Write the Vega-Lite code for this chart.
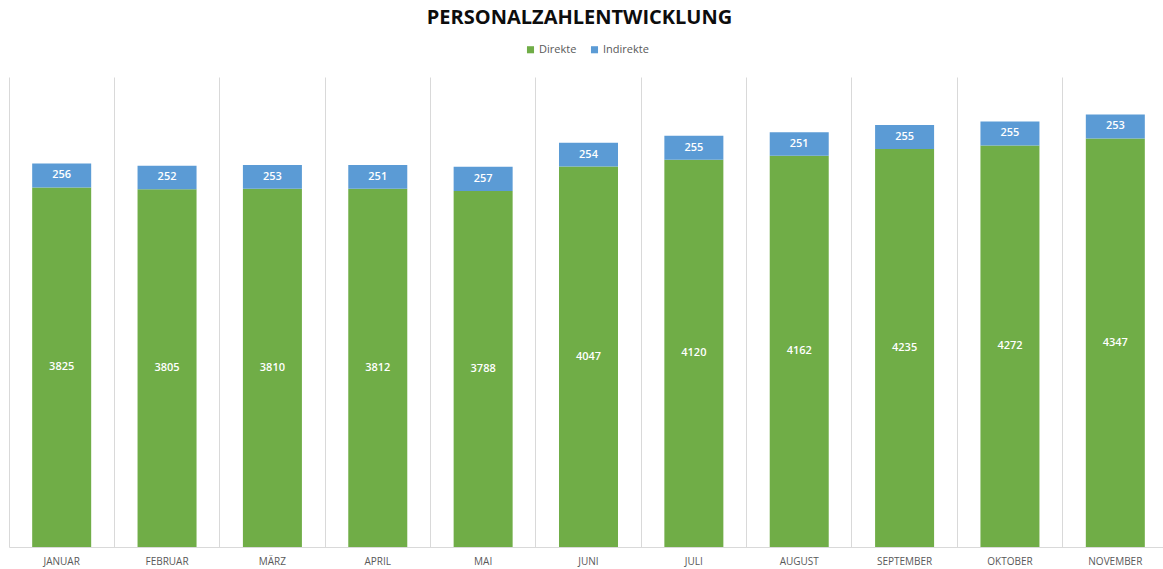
{
  "$schema": "https://vega.github.io/schema/vega-lite/v6.json",
  "width": 1159,
  "height": 470,
  "autosize": "none",
  "padding": {"left": 9, "top": 77, "right": 0, "bottom": 22},
  "background": "white",
  "title": {
    "text": "PERSONALZAHLENTWICKLUNG",
    "font": "Open Sans",
    "fontSize": 20,
    "fontWeight": "bold",
    "color": "#0d0d0d",
    "anchor": "middle",
    "frame": "group",
    "dx": -9,
    "offset": 16
  },
  "data": {
    "values": [
      {"monat": "JANUAR", "art": "Direkte", "wert": 3825},
      {"monat": "JANUAR", "art": "Indirekte", "wert": 256},
      {"monat": "FEBRUAR", "art": "Direkte", "wert": 3805},
      {"monat": "FEBRUAR", "art": "Indirekte", "wert": 252},
      {"monat": "MÄRZ", "art": "Direkte", "wert": 3810},
      {"monat": "MÄRZ", "art": "Indirekte", "wert": 253},
      {"monat": "APRIL", "art": "Direkte", "wert": 3812},
      {"monat": "APRIL", "art": "Indirekte", "wert": 251},
      {"monat": "MAI", "art": "Direkte", "wert": 3788},
      {"monat": "MAI", "art": "Indirekte", "wert": 257},
      {"monat": "JUNI", "art": "Direkte", "wert": 4047},
      {"monat": "JUNI", "art": "Indirekte", "wert": 254},
      {"monat": "JULI", "art": "Direkte", "wert": 4120},
      {"monat": "JULI", "art": "Indirekte", "wert": 255},
      {"monat": "AUGUST", "art": "Direkte", "wert": 4162},
      {"monat": "AUGUST", "art": "Indirekte", "wert": 251},
      {"monat": "SEPTEMBER", "art": "Direkte", "wert": 4235},
      {"monat": "SEPTEMBER", "art": "Indirekte", "wert": 255},
      {"monat": "OKTOBER", "art": "Direkte", "wert": 4272},
      {"monat": "OKTOBER", "art": "Indirekte", "wert": 255},
      {"monat": "NOVEMBER", "art": "Direkte", "wert": 4347},
      {"monat": "NOVEMBER", "art": "Indirekte", "wert": 253}
    ]
  },
  "encoding": {
    "x": {
      "field": "monat",
      "type": "nominal",
      "sort": null,
      "scale": {"paddingInner": 0, "paddingOuter": 0},
      "axis": {
        "title": null,
        "labelAngle": 0,
        "bandPosition": 0,
        "ticks": false,
        "grid": true,
        "gridColor": "#d9d9d9",
        "gridWidth": 1,
        "domainColor": "#d9d9d9",
        "domainWidth": 1,
        "labelFont": "Open Sans",
        "labelFontSize": 10,
        "labelColor": "#595959",
        "labelPadding": 9
      }
    },
    "y": {
      "field": "wert",
      "type": "quantitative",
      "stack": "zero",
      "scale": {"domain": [0, 5000]},
      "axis": null
    },
    "order": {"field": "art", "sort": "ascending"}
  },
  "layer": [
    {
      "mark": {"type": "bar", "width": {"band": 0.56}},
      "encoding": {
        "color": {
          "field": "art",
          "type": "nominal",
          "scale": {"domain": ["Direkte", "Indirekte"], "range": ["#70ad47", "#5b9bd5"]},
          "legend": {
            "title": null,
            "orient": "none",
            "direction": "horizontal",
            "legendX": 516,
            "legendY": -33,
            "symbolType": "square",
            "symbolSize": 50,
            "symbolStrokeWidth": 0,
            "labelFont": "Open Sans",
            "labelFontSize": 11,
            "labelColor": "#595959",
            "columnPadding": 12,
            "labelOffset": 3
          }
        }
      }
    },
    {
      "mark": {"type": "text", "color": "white", "font": "Open Sans", "fontSize": 11, "fontWeight": 600},
      "encoding": {
        "y": {"field": "wert", "type": "quantitative", "stack": "zero", "bandPosition": 0.5},
        "detail": {"field": "art"},
        "text": {"field": "wert", "type": "quantitative"}
      }
    }
  ],
  "config": {"view": {"stroke": null}}
}
